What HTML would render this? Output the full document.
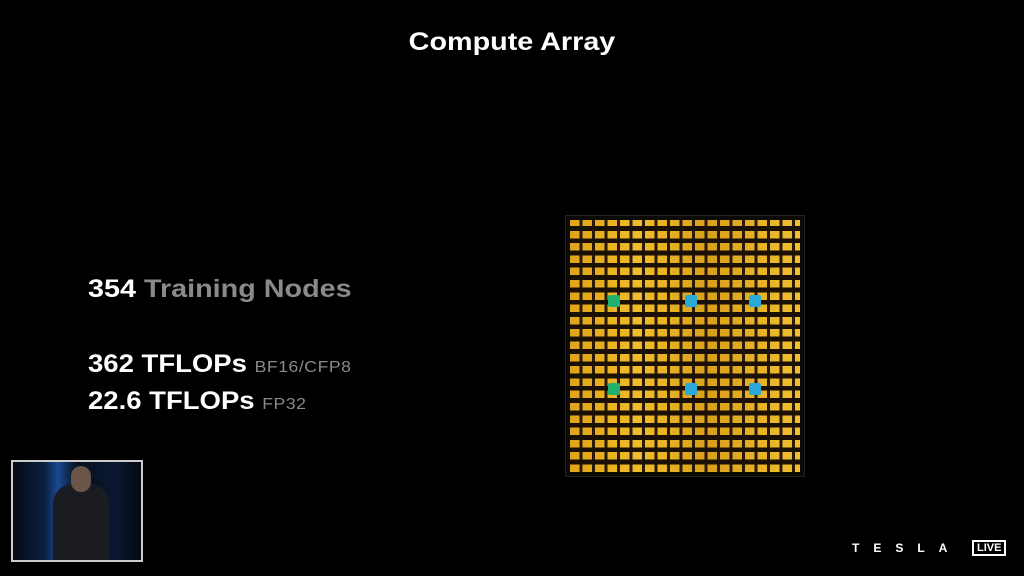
<!DOCTYPE html>
<html><head><style>
body{margin:0;width:1024px;height:576px;background:#000;position:relative;overflow:hidden;font-family:"Liberation Sans",sans-serif;}
.t{position:absolute;color:#fff;white-space:nowrap;transform-origin:0 0;}
.chip{position:absolute;left:565px;top:215px;width:238px;height:260px;background:#0c0a04;border:1px solid #222;}
.grid{position:absolute;left:4px;top:4px;right:4px;bottom:4px;
background:
repeating-linear-gradient(0deg,rgba(0,0,0,0) 0 7.5px,#1a1005 7.5px 12.3px),
repeating-linear-gradient(90deg,rgba(0,0,0,0) 0 9.5px,#2a1a05 9.5px 12.5px),
linear-gradient(90deg,#e0a418,#f0bd2a 30%,#d9a01a 60%,#f0c030);}
.n{position:absolute;width:12px;height:12px;background:#2aa8d8;border-radius:2px;}
.g{background:#22b070;}
</style></head><body>
<div class="t" style="left:0;width:1024px;text-align:center;top:28px;font-size:25px;font-weight:bold;transform:scaleX(1.15);transform-origin:512px 0;">Compute Array</div>
<div class="t" style="left:88px;top:275px;font-size:25px;font-weight:bold;transform:scaleX(1.15);">354 <span style="color:#8a8a8a">Training Nodes</span></div>
<div class="t" style="left:88px;top:350px;font-size:25px;font-weight:bold;transform:scaleX(1.1);">362 TFLOPs <span style="color:#8a8a8a;font-size:16px;font-weight:normal;letter-spacing:0.5px">BF16/CFP8</span></div>
<div class="t" style="left:88px;top:387px;font-size:25px;font-weight:bold;transform:scaleX(1.1);">22.6 TFLOPs <span style="color:#8a8a8a;font-size:16px;font-weight:normal;letter-spacing:0.5px">FP32</span></div>
<div class="chip"><div class="grid"></div>
<div class="n g" style="left:42px;top:79px"></div>
<div class="n" style="left:119px;top:79px"></div>
<div class="n" style="left:183px;top:79px"></div>
<div class="n g" style="left:42px;top:167px"></div>
<div class="n" style="left:119px;top:167px"></div>
<div class="n" style="left:183px;top:167px"></div>
</div>
<div style="position:absolute;left:11px;top:460px;width:128px;height:98px;border:2px solid #ccc;background:linear-gradient(90deg,#050a14 0,#0a2040 25%,#1a4a90 35%,#06101e 50%,#0a1830 80%,#050810);">
<div style="position:absolute;left:40px;top:22px;width:56px;height:76px;background:#1a1c22;border-radius:20px 20px 0 0;"></div>
<div style="position:absolute;left:58px;top:4px;width:20px;height:26px;background:#6a5548;border-radius:10px;"></div>
</div>
<div class="t" style="left:852px;top:541px;font-size:12px;font-weight:bold;letter-spacing:14px;">TESLA</div>
<div class="t" style="left:972px;top:540px;font-size:11px;font-weight:bold;border:2px solid #fff;padding:0 3px;line-height:12px;">LIVE</div>
</body></html>
